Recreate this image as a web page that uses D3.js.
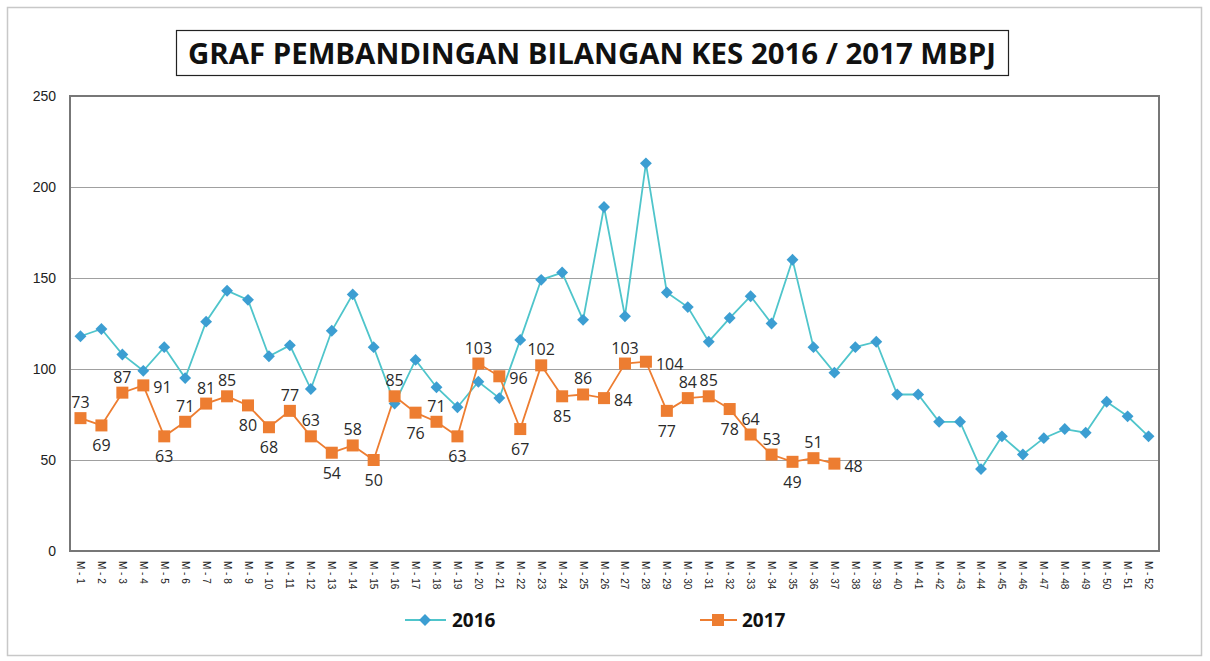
<!DOCTYPE html>
<html><head><meta charset="utf-8">
<script src="https://cdn.jsdelivr.net/npm/d3@7"></script>
<style>body{margin:0;background:#fff}svg{display:block}</style>
</head><body>
<svg id="c" width="1210" height="661"></svg>
<script>
const weeks = d3.range(1, 53).map(i => "M - " + i);
const v2016 = [118,122,108,99,112,95,126,143,138,107,113,89,121,141,112,81,105,90,79,93,84,116,149,153,127,189,129,213,142,134,115,128,140,125,160,112,98,112,115,86,86,71,71,45,63,53,62,67,65,82,74,63];
const v2017 = [73,69,87,91,63,71,81,85,80,68,77,63,54,58,50,85,76,71,63,103,96,67,102,85,86,84,103,104,77,84,85,78,64,53,49,51,48];
const labelSide2017 = ["t","b","t","r","b","t","t","t","b","b","t","t","b","t","b","t","b","t","b","t","r","b","t","b","t","r","t","r","b","t","t","b","t","t","b","t","r"];
const yTicks = [0,50,100,150,200,250];
const titleText = "GRAF PEMBANDINGAN BILANGAN KES 2016 / 2017 MBPJ";

const svg = d3.select("#c");
const L = 70, R = 1159, T = 96, B = 551;
const x = d3.scaleBand().domain(weeks).range([L, R]);
const y = d3.scaleLinear().domain([0, 250]).range([B, T]);
const cx = (i) => x(weeks[i]) + x.bandwidth() / 2;

// outer frame
svg.append("rect").attr("x", 7.5).attr("y", 7.5).attr("width", 1194).attr("height", 648)
  .attr("fill", "none").attr("stroke", "#c8c8c8").attr("stroke-width", 1.5);

// title box
svg.append("rect").attr("x", 176.5).attr("y", 30.5).attr("width", 832).attr("height", 45)
  .attr("fill", "#fff").attr("stroke", "#222").attr("stroke-width", 1.2);
svg.append("text").attr("x", 592).attr("y", 64).attr("text-anchor", "middle")
  .attr("font-family", "'Open Sans', sans-serif").attr("font-weight", "bold").attr("font-size", 28)
  .attr("textLength", 808).attr("lengthAdjust", "spacingAndGlyphs").attr("fill", "#111").text(titleText);

// gridlines
svg.append("g").selectAll("line").data(yTicks.filter(d => d > 0 && d < 250)).join("line")
  .attr("x1", L).attr("x2", R).attr("y1", d => y(d) + 0.5).attr("y2", d => y(d) + 0.5)
  .attr("stroke", "#a0a0a0").attr("stroke-width", 1.2);

// plot border
svg.append("rect").attr("x", L).attr("y", T).attr("width", R - L).attr("height", B - T)
  .attr("fill", "none").attr("stroke", "#777").attr("stroke-width", 2);

// y axis labels
const yAxis = d3.axisLeft(y).tickValues(yTicks).tickSize(0).tickPadding(14);
const yg = svg.append("g").attr("transform", `translate(${L},0)`).call(yAxis);
yg.select(".domain").remove();
yg.selectAll("text").attr("font-family", "'Liberation Sans Narrow', 'Liberation Sans', sans-serif").attr("font-size", 14).attr("fill", "#222");

// x axis labels
const xAxis = d3.axisBottom(x).tickSize(0);
const xg = svg.append("g").attr("transform", `translate(0,${B})`).call(xAxis);
xg.select(".domain").remove();
xg.selectAll("text")
  .attr("font-family", "'Liberation Sans', sans-serif").attr("font-size", 10).attr("fill", "#222")
  .attr("text-anchor", "start").attr("dy", null).attr("y", 0)
  .attr("transform", "translate(-3.5,10) rotate(90)");

// lines
const line = (arr) => d3.line().x((d, i) => cx(i)).y(d => y(d))(arr);
svg.append("path").attr("d", line(v2016)).attr("fill", "none").attr("stroke", "#4FC5CB").attr("stroke-width", 1.8);
svg.append("path").attr("d", line(v2017)).attr("fill", "none").attr("stroke", "#ED7D31").attr("stroke-width", 1.8);

// markers 2016
svg.append("g").selectAll("path").data(v2016).join("path")
  .attr("d", d3.symbol(d3.symbolDiamond2, 90)())
  .attr("transform", (d, i) => `translate(${cx(i)},${y(d)})`)
  .attr("fill", "#3C9ED2");

// markers 2017
svg.append("g").selectAll("rect").data(v2017).join("rect")
  .attr("x", (d, i) => cx(i) - 6).attr("y", d => y(d) - 6).attr("width", 12).attr("height", 12)
  .attr("fill", "#ED7D31");

// labels 2017
svg.append("g").selectAll("text").data(v2017).join("text")
  .attr("x", (d, i) => labelSide2017[i] === "r" ? cx(i) + 10 : cx(i))
  .attr("y", (d, i) => labelSide2017[i] === "t" ? y(d) - 10 : labelSide2017[i] === "b" ? y(d) + 26 : y(d) + 8)
  .attr("text-anchor", (d, i) => labelSide2017[i] === "r" ? "start" : "middle")
  .attr("font-family", "'Open Sans', sans-serif").attr("font-size", 16).attr("fill", "#2a2a2a")
  .text(d => d);

// legend
const lg = svg.append("g");
lg.append("line").attr("x1", 405).attr("x2", 446).attr("y1", 620).attr("y2", 620).attr("stroke", "#4FC5CB").attr("stroke-width", 1.8);
lg.append("path").attr("d", d3.symbol(d3.symbolDiamond2, 90)()).attr("transform", "translate(425,620)").attr("fill", "#3C9ED2");
lg.append("text").attr("x", 452).attr("y", 627).attr("font-family", "'Open Sans', sans-serif").attr("font-weight", "bold")
  .attr("font-size", 19).attr("fill", "#111").text("2016");
lg.append("line").attr("x1", 700).attr("x2", 737).attr("y1", 620).attr("y2", 620).attr("stroke", "#ED7D31").attr("stroke-width", 1.8);
lg.append("rect").attr("x", 712).attr("y", 614).attr("width", 12).attr("height", 12).attr("fill", "#ED7D31");
lg.append("text").attr("x", 742).attr("y", 627).attr("font-family", "'Open Sans', sans-serif").attr("font-weight", "bold")
  .attr("font-size", 19).attr("fill", "#111").text("2017");
</script>
</body></html>
